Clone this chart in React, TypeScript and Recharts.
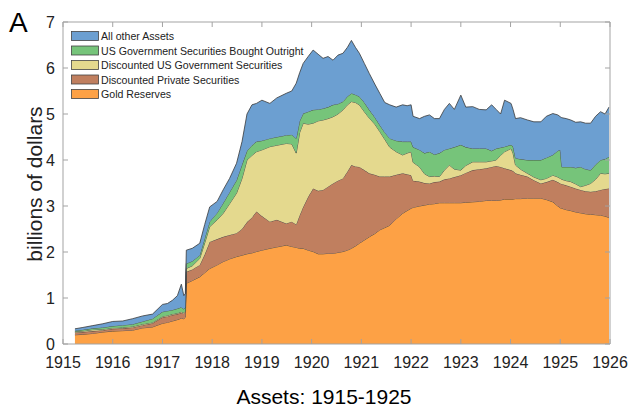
import { Area, AreaChart, XAxis, YAxis } from "recharts";

// decimal years (weekly data thinned to roughly monthly readings)
const years = [
  1915.24, 1915.4, 1915.6, 1915.8, 1916.0, 1916.2, 1916.4, 1916.6, 1916.8, 1917.0,
  1917.1, 1917.2, 1917.3, 1917.38, 1917.43, 1917.46, 1917.48, 1917.6, 1917.75, 1917.85,
  1917.95, 1918.1, 1918.22, 1918.35, 1918.49, 1918.6, 1918.7, 1918.8, 1918.89, 1919.0,
  1919.16, 1919.3, 1919.49, 1919.6, 1919.69, 1919.76, 1919.83, 1919.93, 1920.03, 1920.13,
  1920.23, 1920.33, 1920.43, 1920.53, 1920.63, 1920.72, 1920.8, 1920.88, 1920.96, 1921.06,
  1921.16, 1921.27, 1921.37, 1921.47, 1921.57, 1921.7, 1921.83, 1921.92, 1922.0, 1922.04,
  1922.17, 1922.27, 1922.37, 1922.47, 1922.57, 1922.67, 1922.77, 1922.87, 1923.0, 1923.1,
  1923.24, 1923.37, 1923.51, 1923.62, 1923.71, 1923.8, 1923.88, 1924.01, 1924.05, 1924.1,
  1924.2, 1924.34, 1924.47, 1924.61, 1924.72, 1924.85, 1924.95, 1925.0, 1925.03, 1925.12,
  1925.21, 1925.31, 1925.41, 1925.51, 1925.61, 1925.71, 1925.81, 1925.9, 1925.98,
];

// billions of dollars
const goldReserves = [
  0.2, 0.21, 0.23, 0.26, 0.28, 0.29, 0.3, 0.35, 0.37, 0.45,
  0.47, 0.5, 0.53, 0.56, 0.55, 0.58, 1.32, 1.38, 1.46, 1.55,
  1.64, 1.72, 1.79, 1.85, 1.9, 1.93, 1.96, 1.98, 2.01, 2.04,
  2.08, 2.11, 2.15, 2.12, 2.1, 2.08, 2.08, 2.04, 2.01, 1.96,
  1.96, 1.97, 1.97, 1.99, 2.01, 2.04, 2.08, 2.13, 2.19, 2.26,
  2.33, 2.4, 2.48, 2.53, 2.58, 2.72, 2.84, 2.9, 2.95, 2.97,
  3.0, 3.02, 3.04, 3.05, 3.07, 3.07, 3.07, 3.07, 3.07, 3.08,
  3.09, 3.1, 3.12, 3.12, 3.12, 3.13, 3.15, 3.15, 3.15, 3.16,
  3.16, 3.17, 3.17, 3.17, 3.14, 3.09, 3.0, 2.96, 2.95, 2.92,
  2.9, 2.87, 2.85, 2.83, 2.82, 2.81, 2.8, 2.78, 2.75,
];
const discPrivate = [
  0.05, 0.05, 0.05, 0.04, 0.05, 0.05, 0.06, 0.06, 0.08, 0.13,
  0.13, 0.13, 0.12, 0.12, 0.11, 0.12, 0.25, 0.24, 0.26, 0.4,
  0.58, 0.56, 0.54, 0.52, 0.51, 0.57, 0.69, 0.77, 0.87, 0.74,
  0.58, 0.59, 0.47, 0.54, 0.5, 0.72, 0.9, 1.16, 1.37, 1.37,
  1.39, 1.45, 1.52, 1.56, 1.59, 1.71, 1.81, 1.73, 1.66, 1.52,
  1.38, 1.28, 1.16, 1.11, 1.06, 0.96, 0.87, 0.79, 0.72, 0.58,
  0.53, 0.48, 0.45, 0.47, 0.46, 0.51, 0.53, 0.56, 0.6, 0.64,
  0.69, 0.7, 0.7, 0.73, 0.75, 0.72, 0.67, 0.63, 0.61, 0.55,
  0.52, 0.47, 0.39, 0.32, 0.38, 0.48, 0.52, 0.53, 0.53, 0.53,
  0.52, 0.51, 0.5, 0.49, 0.49, 0.51, 0.55, 0.59, 0.63,
];
const discUsGov = [
  0.02, 0.02, 0.03, 0.02, 0.02, 0.02, 0.02, 0.02, 0.02, 0.02,
  0.02, 0.02, 0.02, 0.02, 0.02, 0.02, 0.07, 0.08, 0.14, 0.25,
  0.33, 0.42, 0.51, 0.68, 0.87, 1.1, 1.35, 1.35, 1.3, 1.44,
  1.63, 1.62, 1.74, 1.69, 1.55, 1.8, 1.82, 1.58, 1.42, 1.52,
  1.52, 1.48, 1.45, 1.45, 1.49, 1.45, 1.38, 1.39, 1.35, 1.27,
  1.2, 1.1, 0.98, 0.81, 0.64, 0.5, 0.4, 0.46, 0.51, 0.4,
  0.32, 0.2, 0.15, 0.13, 0.11, 0.2, 0.29, 0.17, 0.11, 0.16,
  0.18, 0.16, 0.14, 0.13, 0.13, 0.25, 0.36, 0.47, 0.39, 0.18,
  0.12, 0.07, 0.07, 0.08, 0.08, 0.1, 0.11, 0.11, 0.1, 0.1,
  0.11, 0.1, 0.07, 0.13, 0.18, 0.26, 0.36, 0.33, 0.33,
];
const boughtOutright = [
  0.02, 0.03, 0.03, 0.04, 0.04, 0.05, 0.05, 0.06, 0.08, 0.1,
  0.1, 0.09, 0.1, 0.1, 0.08, 0.08, 0.11, 0.1, 0.07, 0.1,
  0.11, 0.15, 0.22, 0.25, 0.28, 0.3, 0.2, 0.22, 0.22, 0.2,
  0.18, 0.18, 0.18, 0.2, 0.32, 0.25, 0.21, 0.27, 0.29, 0.25,
  0.25, 0.25, 0.26, 0.22, 0.18, 0.18, 0.18, 0.17, 0.18, 0.2,
  0.18, 0.15, 0.14, 0.15, 0.19, 0.24, 0.29, 0.25, 0.22, 0.33,
  0.37, 0.45, 0.54, 0.47, 0.51, 0.44, 0.36, 0.48, 0.55, 0.4,
  0.29, 0.29, 0.29, 0.22, 0.25, 0.17, 0.11, 0.08, 0.15, 0.15,
  0.22, 0.29, 0.37, 0.43, 0.45, 0.44, 0.57, 0.62, 0.27, 0.3,
  0.32, 0.35, 0.43, 0.35, 0.29, 0.32, 0.29, 0.32, 0.36,
];
const otherAssets = [
  0.04, 0.05, 0.06, 0.08, 0.1, 0.09, 0.12, 0.12, 0.1, 0.16,
  0.16, 0.21, 0.28, 0.5, 0.29, 0.3, 0.29, 0.28, 0.26, 0.3,
  0.32, 0.25, 0.29, 0.3, 0.37, 0.5, 0.8, 0.88, 0.83, 0.88,
  0.76, 0.85, 0.91, 0.95, 1.2, 1.05, 1.09, 1.2, 1.3, 1.2,
  1.09, 1.1, 0.97, 1.06, 1.05, 1.07, 1.15, 1.03, 0.94, 0.85,
  0.79, 0.72, 0.69, 0.65, 0.73, 0.73, 0.8, 0.78, 0.8, 0.67,
  0.68, 0.8, 0.8, 0.78, 0.75, 0.88, 0.98, 0.82, 1.08, 0.87,
  0.91, 0.85, 0.84, 1.0, 0.85, 0.73, 1.01, 0.9, 0.8, 0.86,
  0.9, 0.87, 0.83, 0.83, 0.9, 0.9, 0.78, 0.72, 1.07, 1.05,
  1.02, 0.99, 0.98, 1.0, 1.02, 1.05, 1.05, 0.98, 1.08,
];

const yearTicks = [1915, 1916, 1917, 1918, 1919, 1920, 1921, 1922, 1923, 1924, 1925, 1926];
const valueTicks = [0, 1, 2, 3, 4, 5, 6, 7];

// bottom to top of the stack
const series = [
  { key: "gold", name: "Gold Reserves", values: goldReserves, color: "#fda145" },
  { key: "priv", name: "Discounted Private Securities", values: discPrivate, color: "#c07f5f" },
  { key: "disc", name: "Discounted US Government Securities", values: discUsGov, color: "#e4d98e" },
  { key: "bought", name: "US Government Securities Bought Outright", values: boughtOutright, color: "#76c47a" },
  { key: "other", name: "All other Assets", values: otherAssets, color: "#6c9fd1" },
];

const data = years.map((t, i) => {
  const row: Record<string, number> = { t };
  series.forEach((s) => {
    row[s.key] = s.values[i];
  });
  return row;
});

const font = "'Liberation Sans', Arial, Helvetica, sans-serif";
const frame = "#a3a3a3";
const ink = "#222";

const BottomTick = (props: any) => {
  const { x, y, payload } = props;
  return (
    <g>
      <line x1={x} y1={y} x2={x} y2={y - 5} stroke={frame} />
      <text x={x} y={y + 24} textAnchor="middle" fontSize={16} fill={ink} fontFamily={font}>
        {payload.value}
      </text>
    </g>
  );
};

const TopTick = (props: any) => {
  const { x, y } = props;
  return <line x1={x} y1={y} x2={x} y2={y + 5} stroke={frame} />;
};

const LeftTick = (props: any) => {
  const { x, y, payload } = props;
  return (
    <g>
      <line x1={x} y1={y} x2={x + 5} y2={y} stroke={frame} />
      <text x={x - 8} y={y + 6} textAnchor="end" fontSize={16} fill={ink} fontFamily={font}>
        {payload.value}
      </text>
    </g>
  );
};

const RightTick = (props: any) => {
  const { x, y } = props;
  return <line x1={x} y1={y} x2={x - 5} y2={y} stroke={frame} />;
};

export default function App() {
  const legendItems = [...series].reverse();
  return (
    <div style={{ position: "relative", width: 633, height: 415, background: "#fff" }}>
      <style>{`body{margin:0}`}</style>
      <AreaChart
        width={633}
        height={415}
        data={data}
        margin={{ top: 21, right: 22, left: 62, bottom: 70 }}
      >
        {series.map((s) => (
          <Area
            key={s.key}
            dataKey={s.key}
            name={s.name}
            stackId="assets"
            type="linear"
            fill={s.color}
            fillOpacity={1}
            stroke="#3a3a3a"
            strokeWidth={0.8}
            isAnimationActive={false}
            dot={false}
            activeDot={false}
          />
        ))}
        <XAxis
          dataKey="t"
          type="number"
          domain={[1915, 1926]}
          ticks={yearTicks}
          height={1}
          tickSize={0}
          tickMargin={0}
          tickLine={false}
          tick={<BottomTick />}
          axisLine={{ stroke: frame }}
          interval={0}
          allowDataOverflow
        />
        <XAxis
          xAxisId="top"
          orientation="top"
          dataKey="t"
          type="number"
          domain={[1915, 1926]}
          ticks={yearTicks}
          height={1}
          tickSize={0}
          tickMargin={0}
          tickLine={false}
          tick={<TopTick />}
          axisLine={{ stroke: frame }}
          interval={0}
          allowDataOverflow
        />
        <YAxis
          type="number"
          domain={[0, 7]}
          ticks={valueTicks}
          width={1}
          tickSize={0}
          tickMargin={0}
          tickLine={false}
          tick={<LeftTick />}
          axisLine={{ stroke: frame }}
          interval={0}
          allowDataOverflow
        />
        <YAxis
          yAxisId="right"
          orientation="right"
          type="number"
          domain={[0, 7]}
          ticks={valueTicks}
          width={1}
          tickSize={0}
          tickMargin={0}
          tickLine={false}
          tick={<RightTick />}
          axisLine={{ stroke: frame }}
          interval={0}
          allowDataOverflow
        />
      </AreaChart>
      <svg
        width={633}
        height={415}
        style={{ position: "absolute", left: 0, top: 0, pointerEvents: "none" }}
        fontFamily={font}
      >
        <text x={9} y={32} fontSize={28} fill="#000">A</text>
        <text
          x={0}
          y={0}
          transform="translate(42,184) rotate(-90)"
          textAnchor="middle"
          fontSize={21}
          fill={ink}
        >
          billions of dollars
        </text>
        <text x={324} y={404} textAnchor="middle" fontSize={21} fill="#000">
          Assets: 1915-1925
        </text>
        {legendItems.map((s, i) => (
          <g key={s.key}>
            <rect
              x={71.5}
              y={31.5 + i * 14.5}
              width={27}
              height={9}
              fill={s.color}
              stroke="#444"
              strokeWidth={0.8}
            />
            <text x={101} y={40 + i * 14.5} fontSize={10.6} fill={ink}>
              {s.name}
            </text>
          </g>
        ))}
      </svg>
    </div>
  );
}
